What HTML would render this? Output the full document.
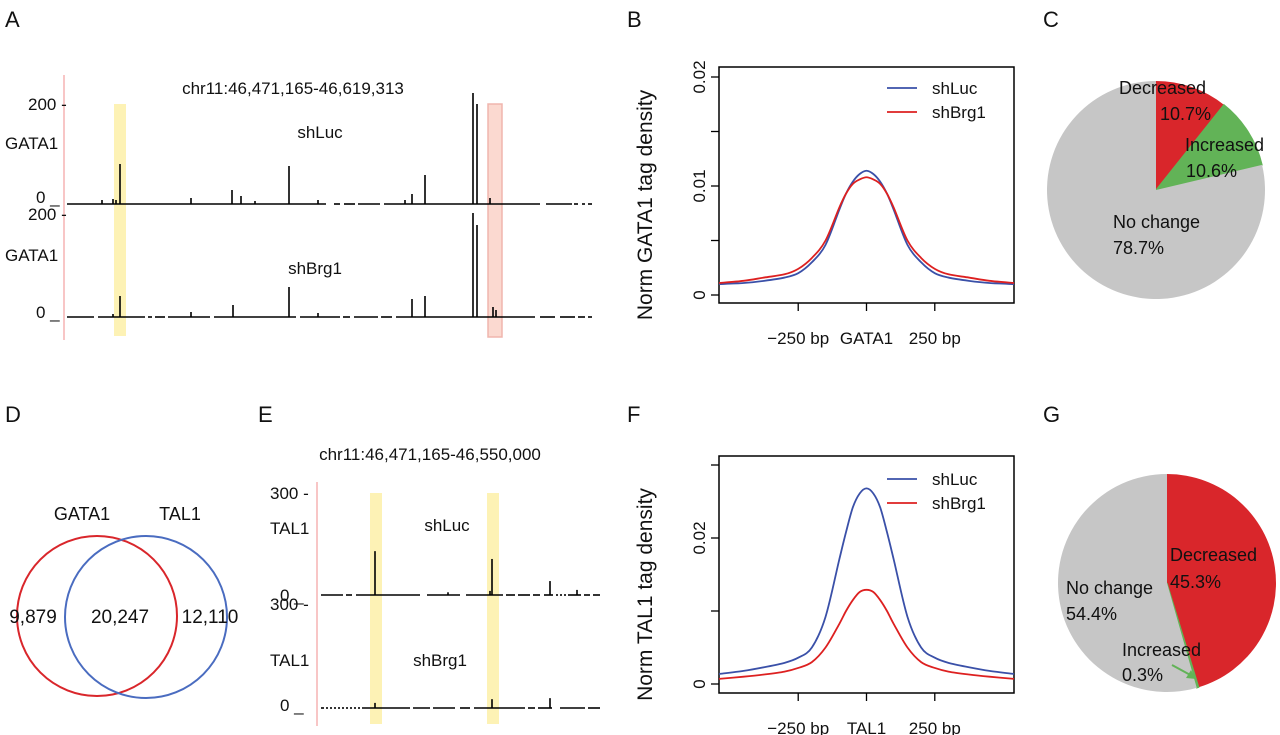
<!DOCTYPE html>
<html><head><meta charset="utf-8"><style>
html,body{margin:0;padding:0;background:#fff}
svg{display:block;font-family:"Liberation Sans",sans-serif}
</style></head><body>
<svg id="fig" width="1280" height="735" viewBox="0 0 1280 735" xmlns="http://www.w3.org/2000/svg"></svg>
<script>
// ---------- data ----------
const gataLucPeaksX=[102,113,116,120,191,232,241,255,289,318,405,412,425,473,477,490];
const gataLucPeaksV=[8,10,8,80,12,28,16,6,76,8,8,20,58,222,200,12];
const gataBrgPeaksX=[113,120,191,233,289,318,412,425,473,477,493,496];
const gataBrgPeaksV=[6,42,10,24,60,8,36,42,208,184,20,14];
const talLucPeaksX=[375,448,490,492,550,577];
const talLucPeaksV=[129,8,12,106,41,15];
const talBrgPeaksX=[375,492,550];
const talBrgPeaksV=[15,26,29];
const profX=[-540,-450,-375,-300,-250,-200,-150,-100,-75,-50,-25,0,25,50,75,100,150,200,250,300,375,450,540];
const gataLuc=[0.0010,0.0011,0.0013,0.0016,0.0020,0.0030,0.0046,0.0078,0.0093,0.0104,0.0111,0.0114,0.0111,0.0104,0.0093,0.0078,0.0046,0.0030,0.0020,0.0016,0.0013,0.0011,0.0010];
const gataBrg=[0.0011,0.0013,0.0016,0.0019,0.0024,0.0034,0.0050,0.0080,0.0093,0.0102,0.0106,0.0108,0.0106,0.0102,0.0093,0.0080,0.0050,0.0034,0.0024,0.0019,0.0016,0.0013,0.0011];
const talLuc=[0.00137,0.0018,0.0023,0.0029,0.0036,0.0050,0.0092,0.0170,0.0208,0.0242,0.0261,0.0268,0.0261,0.0242,0.0208,0.0170,0.0092,0.0050,0.0036,0.0029,0.0023,0.0018,0.00137];
const talBrg=[0.0007,0.0010,0.0013,0.0017,0.0022,0.0030,0.0050,0.0082,0.0100,0.0115,0.0126,0.0129,0.0126,0.0115,0.0100,0.0082,0.0050,0.0030,0.0022,0.0017,0.0013,0.0010,0.0007];
const pieCLabels=["Decreased","Increased","No change"];
const pieCValues=[10.7,10.6,78.7];
const pieGLabels=["Decreased","Increased","No change"];
const pieGValues=[45.3,0.3,54.4];
const vennCounts=["9,879","20,247","12,110"];
const vennSets=["GATA1","TAL1"];

// ---------- helpers ----------
const svg=document.getElementById('fig');
const NS='http://www.w3.org/2000/svg';
function el(tag,attrs,parent){const e=document.createElementNS(NS,tag);for(const k in attrs)e.setAttribute(k,attrs[k]);(parent||svg).appendChild(e);return e;}
function txt(x,y,s,size,anchor,parent,extra){const t=el('text',Object.assign({x:x,y:y,'font-size':size,'text-anchor':anchor||'start',fill:'#111'},extra||{}),parent);t.textContent=s;return t;}

// panel letters
[["A",5,27],["B",627,27],["C",1043,27],["D",5,422],["E",258,422],["F",627,422],["G",1043,422]].forEach(p=>{
  const t=txt(p[1],p[2],p[0],22);
  
  
});

// ---------- browser tracks ----------
function track(g,x0,x1,base,pxPerUnit,xs,vs,gaps){
  let cur=x0;
  gaps.forEach(gp=>{el('line',{x1:cur,y1:base,x2:gp[0],y2:base,stroke:'#000','stroke-width':1.6},g);cur=gp[1];});
  el('line',{x1:cur,y1:base,x2:x1,y2:base,stroke:'#000','stroke-width':1.6},g);
  xs.forEach((x,i)=>{
    const b=el('rect',{x:x-0.8,y:base-vs[i]*pxPerUnit,width:1.6,height:vs[i]*pxPerUnit,fill:'#000'},g);
    
    
  });
}
// Panel A
const gA=el('g',{});


el('rect',{x:114,y:104,width:12,height:232,fill:'#fdf2b5'},gA);
el('rect',{x:488,y:104,width:14,height:233,fill:'#fbd9d0',stroke:'#f0b5ad','stroke-width':1.5},gA);
el('line',{x1:64,y1:75,x2:64,y2:340,stroke:'#f2a0a0','stroke-width':1.2},gA);
txt(293,94,"chr11:46,471,165-46,619,313",17,'middle',gA);
txt(320,138,"shLuc",17,'middle',gA);
txt(315,274,"shBrg1",17,'middle',gA);
txt(28,110,"200 -",17,'start',gA);txt(5,149,"GATA1",17,'start',gA);txt(36,203,"0 _",17,'start',gA);
txt(28,220,"200 -",17,'start',gA);txt(5,261,"GATA1",17,'start',gA);txt(36,318,"0 _",17,'start',gA);
track(gA,67,592,204,0.5,gataLucPeaksX,gataLucPeaksV,[[326,330],[330,334],[340,344],[355,358],[380,384],[540,546],[572,574],[578,582],[585,588]]);
track(gA,67,592,317,0.5,gataBrgPeaksX,gataBrgPeaksV,[[94,98],[145,148],[152,155],[165,168],[210,214],[296,300],[340,343],[350,354],[378,381],[392,396],[535,540],[555,560],[575,578],[585,588]]);

// Panel E
const gE=el('g',{});


el('rect',{x:370,y:493,width:12,height:231,fill:'#fdf2b5'},gE);
el('rect',{x:487,y:493,width:12,height:231,fill:'#fdf2b5'},gE);
el('line',{x1:317,y1:482,x2:317,y2:726,stroke:'#f2a0a0','stroke-width':1.2},gE);
txt(430,460,"chr11:46,471,165-46,550,000",17,'middle',gE);
txt(447,531,"shLuc",17,'middle',gE);
txt(440,666,"shBrg1",17,'middle',gE);
txt(270,499,"300 -",17,'start',gE);txt(270,534,"TAL1",17,'start',gE);txt(280,601,"0 _",17,'start',gE);
txt(270,610,"300 -",17,'start',gE);txt(270,666,"TAL1",17,'start',gE);txt(280,711,"0 _",17,'start',gE);
track(gE,321,600,595,0.34,talLucPeaksX,talLucPeaksV,[[343,346],[352,356],[420,427],[460,466],[503,506],[515,518],[530,533],[540,544],[553,556],[558,560],[562,564],[566,568],[581,584],[590,593]]);
track(gE,321,600,708,0.34,talBrgPeaksX,talBrgPeaksV,[[324,326],[328,330],[332,334],[336,338],[340,342],[344,346],[348,350],[352,354],[356,358],[360,362],[410,413],[430,433],[455,460],[470,474],[525,528],[535,538],[552,560],[585,588]]);

// ---------- profile plots ----------
function profile(name,box,yTicks,yTickLabels,series,colors,centerLabel,ylabel,legY){
  const g=el('g',{});
  
  
  const [x0,y0,x1,y1,yZero,ys]=box;
  const sx=v=>x0+(v+540)/1080*(x1-x0);
  const syv=v=>yZero-v*ys;
  el('rect',{x:x0,y:y0,width:x1-x0,height:y1-y0,fill:'none',stroke:'#000','stroke-width':1.5},g);
  yTicks.forEach((t,i)=>{
    const y=syv(t);
    el('line',{x1:x0-8,y1:y,x2:x0,y2:y,stroke:'#000','stroke-width':1.3},g);
    if(yTickLabels[i]){const tl=txt(x0-14,y,yTickLabels[i],17,'middle',g,{transform:`rotate(-90 ${x0-14} ${y})`});}
  });
  [[-250,'\u2212250 bp'],[0,centerLabel],[250,'250 bp']].forEach(t=>{
    const x=sx(t[0]);
    el('line',{x1:x,y1:y1,x2:x,y2:y1+8,stroke:'#000','stroke-width':1.3},g);
    const tl=txt(x,y1+41,t[1],17,'middle',g);
    
  });
  const yl=txt(652,(y0+y1)/2+20,ylabel,21,'middle',g,{transform:`rotate(-90 652 ${(y0+y1)/2+20})`});
  
  series.forEach((s,k)=>{
    const px=profX.map(sx),py=s.map(syv);
    let d='M'+px[0]+','+py[0];
    for(let i=0;i<px.length-1;i++){
      const p0=[px[Math.max(i-1,0)],py[Math.max(i-1,0)]],p1=[px[i],py[i]],p2=[px[i+1],py[i+1]],p3=[px[Math.min(i+2,px.length-1)],py[Math.min(i+2,px.length-1)]];
      const c1=[p1[0]+(p2[0]-p0[0])/6,p1[1]+(p2[1]-p0[1])/6],c2=[p2[0]-(p3[0]-p1[0])/6,p2[1]-(p3[1]-p1[1])/6];
      d+=` C${c1[0]},${c1[1]} ${c2[0]},${c2[1]} ${p2[0]},${p2[1]}`;
    }
    const p=el('path',{d:d,fill:'none',stroke:colors[k],'stroke-width':1.8},g);
    
    
  });
  ['shLuc','shBrg1'].forEach((n,k)=>{
    const y=legY+k*24;
    el('line',{x1:887,y1:y,x2:917,y2:y,stroke:colors[k],'stroke-width':1.8},g);
    const t=txt(932,y+6,n,17,'start',g);
    
  });
}
profile('panel-b-gata1-profile',[719,67,1014,303,295,10900],[0,0.005,0.01,0.015,0.02],['0','','0.01','','0.02'],[gataLuc,gataBrg],['#3a50a8','#dd2020'],'GATA1','Norm GATA1 tag density',88);
profile('panel-f-tal1-profile',[719,456,1014,693,684,7300],[0,0.01,0.02,0.03],['0','','0.02',''],[talLuc,talBrg],['#3a50a8','#dd2020'],'TAL1','Norm TAL1 tag density',479);

// ---------- pies ----------
function pie(name,cx,cy,r,vals,labels,colors){
  const g=el('g',{});
  
  
  const tot=vals.reduce((a,b)=>a+b,0);let a=0;
  vals.forEach((v,i)=>{
    const a0=a/tot*2*Math.PI;a+=v;const a1=a/tot*2*Math.PI;
    const p0=[cx+r*Math.sin(a0),cy-r*Math.cos(a0)],p1=[cx+r*Math.sin(a1),cy-r*Math.cos(a1)];
    const large=(a1-a0)>Math.PI?1:0;
    const s=el('path',{d:`M${cx},${cy} L${p0[0]},${p0[1]} A${r},${r} 0 ${large} 1 ${p1[0]},${p1[1]} Z`,fill:colors[i],stroke:i==1?colors[i]:'none','stroke-width':1.2},g);
    
    
  });
  return g;
}
const gC=pie('panel-c-gata1-pie',1156,190,109,pieCValues,pieCLabels,['#d9262b','#62b357','#c6c6c6']);
txt(1119,94,pieCLabels[0],18,'start',gC);txt(1160,120,pieCValues[0]+'%',18,'start',gC);
txt(1185,151,pieCLabels[1],18,'start',gC);txt(1186,177,pieCValues[1]+'%',18,'start',gC);
txt(1113,228,pieCLabels[2],18,'start',gC);txt(1113,254,pieCValues[2]+'%',18,'start',gC);
const gG=pie('panel-g-tal1-pie',1167,583,109,pieGValues,pieGLabels,['#d9262b','#62b357','#c6c6c6']);
txt(1170,561,pieGLabels[0],18,'start',gG);txt(1170,588,pieGValues[0]+'%',18,'start',gG);
txt(1066,594,pieGLabels[2],18,'start',gG);txt(1066,620,pieGValues[2]+'%',18,'start',gG);
txt(1122,656,pieGLabels[1],18,'start',gG);txt(1122,681,pieGValues[1]+'%',18,'start',gG);
el('line',{x1:1172,y1:665,x2:1194,y2:677,stroke:'#62b357','stroke-width':2},gG);
el('path',{d:'M1196,679 L1186,678 L1191,670 Z',fill:'#62b357'},gG);

// ---------- venn ----------
const gD=el('g',{});


const c1=el('circle',{cx:97,cy:616,r:80,fill:'none',stroke:'#d9262b','stroke-width':2},gD);

const c2=el('circle',{cx:146,cy:617,r:81,fill:'none',stroke:'#4a6cc0','stroke-width':2},gD);

txt(82,520,vennSets[0],18,'middle',gD);txt(180,520,vennSets[1],18,'middle',gD);
txt(33,623,vennCounts[0],19,'middle',gD);txt(120,623,vennCounts[1],19,'middle',gD);txt(210,623,vennCounts[2],19,'middle',gD);
</script>
</body></html>
